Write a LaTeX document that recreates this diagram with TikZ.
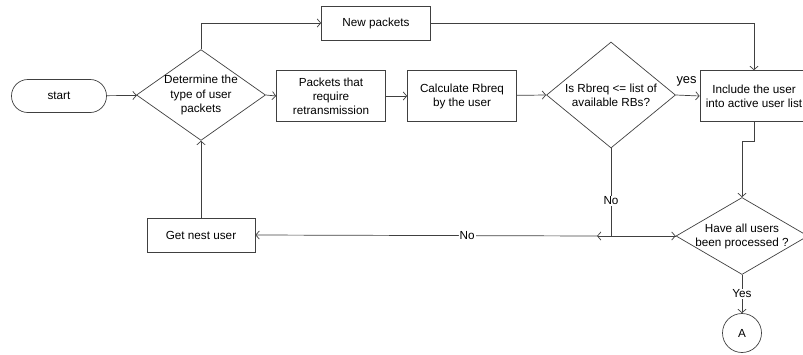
\documentclass[tikz,border=0pt]{standalone}
\usepackage{fontspec}
\setmainfont{Liberation Sans}
\usetikzlibrary{shapes.geometric,arrows.meta}
\begin{document}
\begin{tikzpicture}[x=0.03cm, y=-0.03cm, font=\fontsize{10}{12}\selectfont,
    >={Straight Barb[length=3pt,width=7pt]},
    every node/.style={align=center, inner sep=1pt},
    line/.style={draw=black!75, line width=0.6pt},
    procbox/.style={line, minimum width=3.27cm, minimum height=1.53cm},
    slimbox/.style={line, minimum width=3.27cm, minimum height=1.02cm},
    decision/.style={line, diamond, inner sep=0pt},
    lbl/.style={fill=white, inner sep=1pt}]
    % pixel grid of the reference, y axis pointing down
    \useasboundingbox (0,0) rectangle (803,354);
    \node[line, rounded corners=0.49cm, minimum width=2.85cm, minimum height=0.99cm] (start) at (59,96) {start};
    \node[decision, aspect=1.42, minimum width=3.84cm, minimum height=2.7cm] (usertype) at (201,95) {Determine the\\type of user\\packets};
    \node[slimbox] (newpk) at (376,23) {New packets};
    \node[procbox] (retrans) at (331,96) {Packets that\\require\\retransmission};
    \node[procbox] (calc) at (462,96) {Calculate Rbreq\\by the user};
    \node[decision, aspect=1.22, minimum width=3.87cm, minimum height=3.18cm] (enough) at (611,95) {Is Rbreq <= list of\\available RBs?};
    \node[procbox, minimum width=3.24cm] (include) at (754,96) {Include the user\\into active user list};
    \node[decision, aspect=1.71, inner sep=-5pt, minimum width=3.96cm, minimum height=2.31cm] (alldone) at (742,236) {Have all users\\been processed ?};
    \node[slimbox, minimum width=3.24cm] (getnext) at (201,235) {Get nest user};
    \node[line, circle, minimum size=1.17cm] (conA) at (742,333) {A};
    \coordinate (join) at (597,236);
    \draw[line, ->] (start) -- (usertype);
    \draw[line, ->] (usertype.north) |- (newpk.west);
    \draw[line, ->] (usertype.east) -- (retrans.west);
    \draw[line, ->] (retrans) -- (calc);
    \draw[line, ->] (calc) -- (enough.west);
    \draw[line, ->] (enough.east) -- node[above, font=\fontsize{11}{13}\selectfont, pos=0.45, yshift=7pt] {yes} (include.west);
    \draw[line, ->] (newpk.east) -| (include.north);
    \draw[line, ->] (include.south) -- ++(0,19) -| (alldone.north);
    \draw[line, ->] (enough.south) -- node[lbl, pos=0.6] {No} (enough.south |- alldone.west) -- (alldone.west);
    \draw[line, ->] (alldone.west) -- (join);
    \draw[line, ->] (join) -- node[lbl, pos=0.38] {No} (getnext.east);
    \draw[line, ->] (getnext.north) -- (usertype.south);
    \draw[line, ->] (alldone.south) -- node[lbl] {Yes} (conA.north);
\end{tikzpicture}
\end{document}
